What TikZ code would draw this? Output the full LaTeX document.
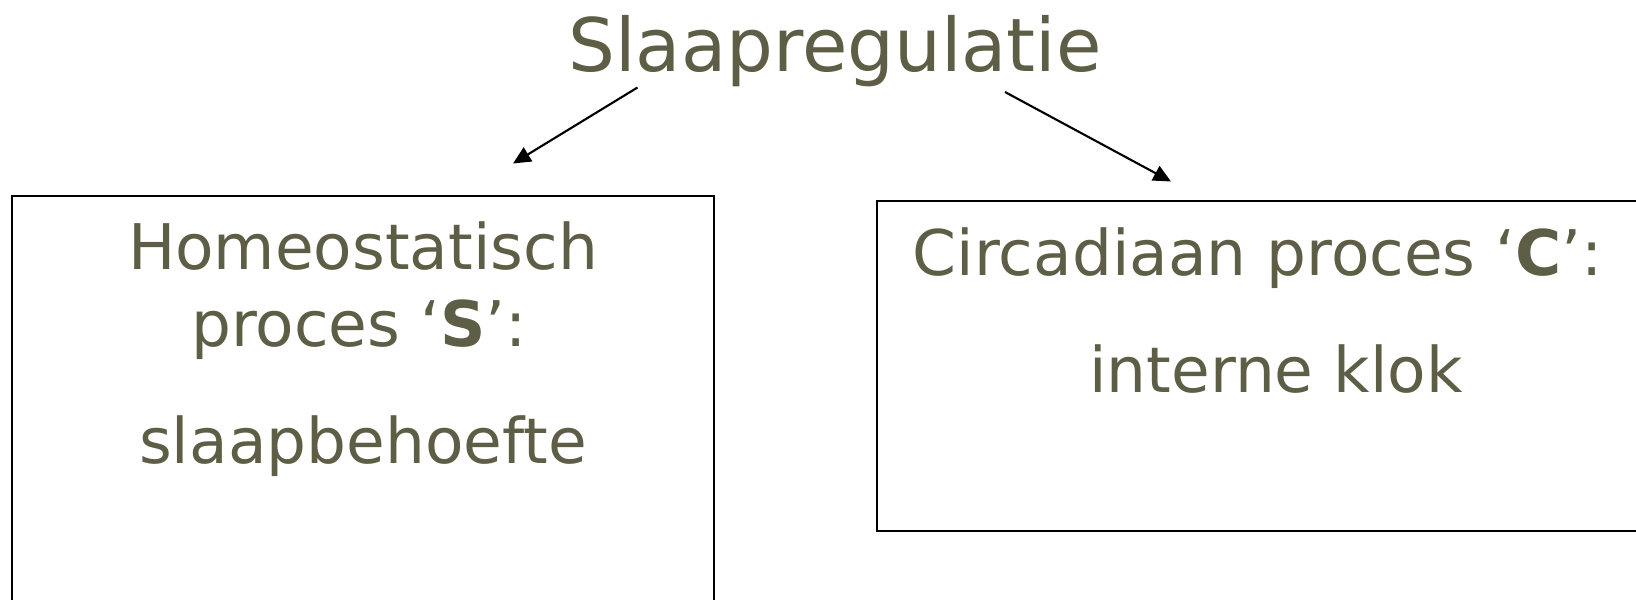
\documentclass[tikz,border=0pt]{standalone}
\usepackage{fontspec}
\setmainfont{DejaVu Sans}
\usetikzlibrary{arrows.meta}
\definecolor{olivetext}{RGB}{94,94,70}
\begin{document}
\begin{tikzpicture}[x=0.01cm,y=-0.01cm,
  txt/.style={text=olivetext, inner sep=0pt, anchor=base, font=\fontsize{17.9pt}{21pt}\selectfont},
  ttl/.style={text=olivetext, inner sep=0pt, anchor=base, font=\fontsize{21pt}{25pt}\selectfont},
  panel/.style={draw=black, line width=0.55pt, inner sep=0pt, outer sep=0pt, anchor=north west},
  link/.style={draw=black, line width=0.6pt, -{Triangle[length=5pt,width=4.6pt]}}]
\clip (0,0) rectangle (1636,600);

% title
\node[ttl] (title) at (835,71) {Slaapregulatie};

% the two process panels (both run past the page edge)
\node[panel, minimum width=7.02cm, minimum height=4.6cm] (left) at (12,196) {};
\node[panel, minimum width=8.4cm, minimum height=3.3cm] (right) at (877,201) {};

% texts of the left panel
\node[txt] (homeo) at (363,269) {Homeostatisch};
\node[txt] (procS) at (359,346) {proces ‘\textbf{S}’:};
\node[txt] (need)  at (363,463) {slaapbehoefte};

% texts of the right panel
\node[txt] (circ) at (1258,275) {Circadiaan proces ‘\textbf{C}’:};
\node[txt] (klok) at (1276,392) {interne klok};

% arrows from the title towards the panels
\coordinate (ls) at (637.5,87.5);
\coordinate (lt) at (513,163.5);
\coordinate (rs) at (1005,92);
\coordinate (rt) at (1171,181.5);
\draw[link] (ls) -- (lt);
\draw[link] (rs) -- (rt);
\end{tikzpicture}
\end{document}
